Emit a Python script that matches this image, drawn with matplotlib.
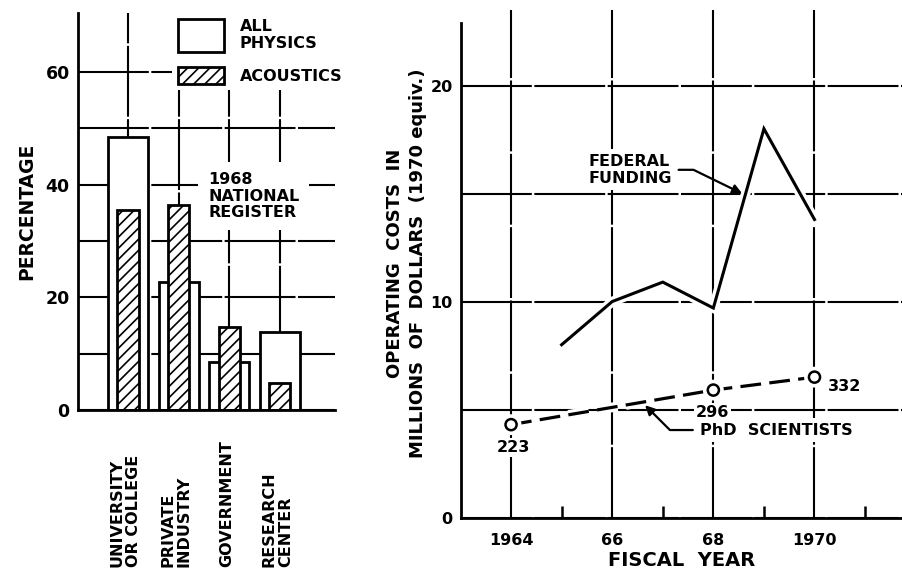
import matplotlib
matplotlib.use("Agg")
import matplotlib.pyplot as plt
from matplotlib.patches import Rectangle
from matplotlib.legend_handler import HandlerPatch
from matplotlib.ticker import FixedLocator
import matplotlib.patheffects as pe

plt.rcParams['font.family'] = ['DejaVu Sans']
plt.rcParams['font.weight'] = 'bold'
plt.rcParams['hatch.linewidth'] = 1.2

# ---------------- data ----------------
categories = ["UNIVERSITY\nOR COLLEGE", "PRIVATE\nINDUSTRY", "GOVERNMENT", "RESEARCH\nCENTER"]
all_physics = [48.5, 22.8, 8.6, 13.8]
acoustics = [35.5, 36.4, 14.8, 4.8]
left_yticks = [0, 20, 40, 60]

fed_years = [1965, 1966, 1967, 1968, 1969, 1970]
federal_funding = [8.0, 10.0, 10.9, 9.7, 18.0, 13.8]
phd_years = [1964, 1968, 1970]
phd_costs = [4.3, 5.9, 6.5]
phd_counts = ["223", "296", "332"]
right_xticks = [1964, 1966, 1968, 1970]
right_xticklabels = ["1964", "66", "68", "1970"]
right_yticks = [0, 10, 20]

# styling / label offsets (points)
phd_label_offsets = [(1.5, -16.5), (-0.5, -16), (22, -7)]

fig = plt.figure(figsize=(9.03, 5.71), dpi=100)
W, H = 903, 571

grid_kw = dict(color='black', linewidth=1.5, linestyle=(0, (34, 1.2)))

# ================= LEFT PANEL =================
ax1 = fig.add_axes([78 / W, (H - 410) / H, 257 / W, 397 / H])
x = list(range(len(categories)))
ax1.set_xlim(-0.99, 4.09)
ax1.set_ylim(0, 70.5)
bars_all = ax1.bar(x, all_physics, width=0.79, facecolor='white', edgecolor='black',
                   linewidth=2.0, zorder=3)
bars_ac = ax1.bar(x, acoustics, width=0.42, facecolor='white', edgecolor='black',
                  linewidth=2.0, hatch='///', zorder=4)

ax1.set_yticks(left_yticks)
ax1.set_yticklabels([str(v) for v in left_yticks])
ax1.yaxis.set_minor_locator(FixedLocator([10, 30, 50]))
ax1.set_xticks(x)
ax1.set_xticklabels([])
ax1.tick_params(axis='y', which='both', length=0, pad=6, labelsize=12.5)
ax1.tick_params(axis='x', which='both', length=0)
ax1.grid(True, which='both', axis='y', zorder=0, **grid_kw)
ax1.grid(True, which='major', axis='x', zorder=0, **grid_kw)
ax1.set_axisbelow(True)
for s in ['top', 'right']:
    ax1.spines[s].set_visible(False)
ax1.spines['left'].set_linewidth(2.0)
ax1.spines['bottom'].set_linewidth(2.0)
ax1.spines['bottom'].set_zorder(5)

ax1.set_ylabel("PERCENTAGE", fontsize=13.5, fontweight='bold')
ax1.yaxis.set_label_coords(-0.163, 0.5)

for xi, lab in zip(x, categories):
    ax1.text(xi - 0.05, -0.395, lab, transform=ax1.get_xaxis_transform(), rotation=90,
             ha='center', va='bottom', multialignment='left', fontsize=11.5,
             fontweight='bold', linespacing=1.1)

ax1.text(1.58, 42.3, "1968\nNATIONAL\nREGISTER", ha='left', va='top', fontsize=11.5,
         fontweight='bold', linespacing=1.15, zorder=6,
         bbox=dict(facecolor='white', edgecolor='none', pad=7))


class SizedHandler(HandlerPatch):
    def __init__(self, hscale=1.0, **kw):
        super().__init__(**kw)
        self.hscale = hscale

    def create_artists(self, legend, orig_handle, xdescent, ydescent, width, height,
                       fontsize, trans):
        h = height * self.hscale
        p = Rectangle((-xdescent, -ydescent - (h - height) / 2), width, h)
        self.update_prop(p, orig_handle, legend)
        p.set_transform(trans)
        return [p]


h_all = bars_all.patches[0]
h_ac = bars_ac.patches[0]
leg = ax1.legend([h_all, h_ac], ["ALL\nPHYSICS", "ACOUSTICS"],
                 handler_map={h_all: SizedHandler(1.85), h_ac: SizedHandler(1.0)},
                 loc='upper left', bbox_to_anchor=(0.366, 1.0), borderaxespad=0,
                 borderpad=0.35, frameon=True, fancybox=False, framealpha=1,
                 facecolor='white', edgecolor='none', fontsize=11.5,
                 handlelength=2.9, handleheight=1.3, handletextpad=1.0,
                 labelspacing=1.0, prop=dict(weight='bold', size=11.5))
leg.set_zorder(6)

# ================= RIGHT PANEL =================
ax2 = fig.add_axes([461 / W, (H - 517.5) / H, 442 / W, 507.5 / H])
ax2.set_xlim(1963.01, 1971.75)
ax2.set_ylim(0, 23.5)

halo = [pe.withStroke(linewidth=7, foreground='white')]
ax2.plot(fed_years, federal_funding, color='black', linewidth=2.2, zorder=4,
         solid_joinstyle='miter', path_effects=halo)
ax2.plot(phd_years, phd_costs, color='black', linewidth=2.3, linestyle=(0, (6.5, 2.6)),
         marker='o', markersize=8, markerfacecolor='white', markeredgecolor='black',
         markeredgewidth=1.8, zorder=5, path_effects=halo)

for xv, yv, lab, off in zip(phd_years, phd_costs, phd_counts, phd_label_offsets):
    ax2.annotate(lab, xy=(xv, yv), xytext=off, textcoords='offset points',
                 ha='center', va='center', fontsize=11.5, fontweight='bold', zorder=6,
                 bbox=dict(facecolor='white', edgecolor='none', pad=1.5))

ax2.annotate("FEDERAL\nFUNDING", xy=(1968.57, 15.0), xytext=(1966.35, 16.1),
             ha='center', va='center', multialignment='left', fontsize=11.5,
             fontweight='bold', zorder=6,
             bbox=dict(facecolor='white', edgecolor='none', pad=3),
             arrowprops=dict(arrowstyle='-|>', connectionstyle='angle,angleA=0,angleB=-26,rad=0',
                             color='black', lw=1.6, shrinkA=2, shrinkB=0, mutation_scale=14))
ax2.annotate("PhD  SCIENTISTS", xy=(1966.65, 5.2), xytext=(1969.24, 4.05),
             ha='center', va='center', fontsize=11.5, fontweight='bold', zorder=6,
             bbox=dict(facecolor='white', edgecolor='none', pad=3),
             arrowprops=dict(arrowstyle='-|>', connectionstyle='angle,angleA=0,angleB=-45,rad=0',
                             color='black', lw=1.6, shrinkA=2, shrinkB=0, mutation_scale=14))

ax2.set_xticks(right_xticks)
ax2.set_xticklabels(right_xticklabels)
ax2.xaxis.set_minor_locator(FixedLocator([1965, 1967, 1969, 1971]))
ax2.set_yticks(right_yticks)
ax2.set_yticklabels([str(v) for v in right_yticks])
ax2.yaxis.set_minor_locator(FixedLocator([5, 15]))
ax2.tick_params(axis='x', which='major', length=0, pad=11, labelsize=11.5)
ax2.tick_params(axis='x', which='minor', direction='in', length=9, width=1.8)
ax2.tick_params(axis='y', which='both', length=0, pad=6, labelsize=11.5)
ax2.grid(True, which='major', axis='x', zorder=0, **grid_kw)
ax2.grid(True, which='both', axis='y', zorder=0, **grid_kw)
ax2.set_axisbelow(True)
for s in ['top', 'right']:
    ax2.spines[s].set_visible(False)
ax2.spines['left'].set_linewidth(2.0)
ax2.spines['bottom'].set_linewidth(2.0)
ax2.spines['left'].set_bounds(0, 22.9)

ax2.set_xlabel("FISCAL  YEAR", fontsize=14, fontweight='bold', labelpad=2)
ax2.set_ylabel("OPERATING  COSTS  IN\nMILLIONS  OF  DOLLARS  (1970 equiv.)",
               fontsize=13, fontweight='bold', linespacing=1.35)
ax2.yaxis.set_label_coords(-0.078, 0.5)

fig.savefig("out.png", dpi=100)
